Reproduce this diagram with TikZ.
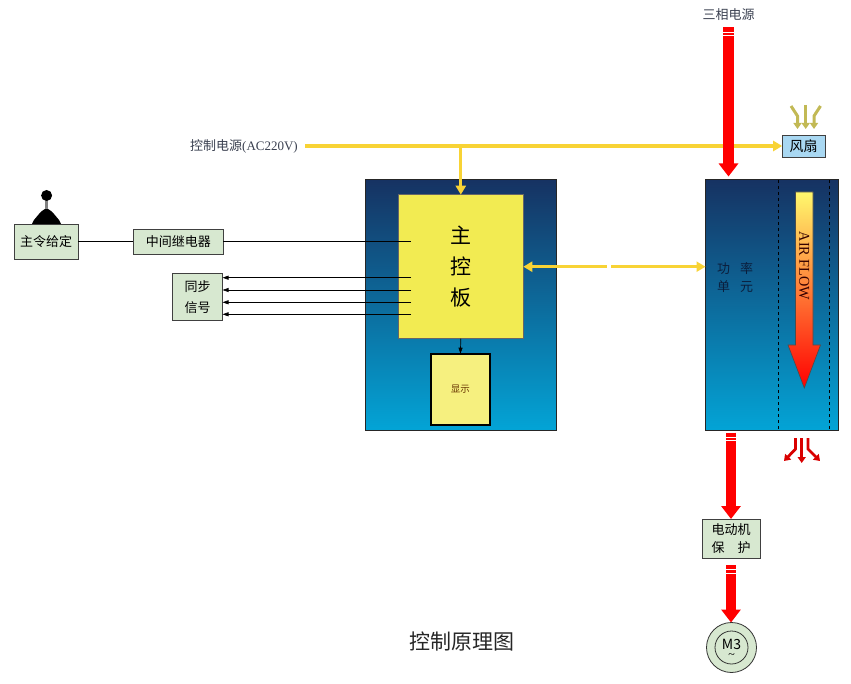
\documentclass[tikz,border=0pt]{standalone}
\usepackage{fontspec}
\setmainfont{Liberation Serif}
\newfontfamily\cjk{Noto Sans CJK SC}
\usetikzlibrary{arrows.meta,shapes.geometric}
\definecolor{cabtop}{HTML}{163262}
\definecolor{cabbot}{HTML}{03A4D6}
\definecolor{boardy}{HTML}{F2EB52}
\definecolor{dispy}{HTML}{F6F07F}
\definecolor{gbox}{HTML}{D7E8D0}
\definecolor{fanb}{HTML}{A9D8F2}
\definecolor{ylw}{HTML}{F8D335}
\definecolor{khaki}{HTML}{C2B955}
\definecolor{txtgray}{HTML}{3A4050}
\definecolor{putext}{HTML}{0B1E3C}
\begin{document}
\begin{tikzpicture}[x=1pt,y=-1pt,
  cab/.style={draw=black!85, line width=0.8pt, top color=cabtop, bottom color=cabbot, inner sep=0pt, outer sep=0pt},
  gbox/.style={draw=black!75, line width=0.9pt, fill=gbox, inner sep=0pt, outer sep=0pt, font=\cjk\fontsize{13}{19}\selectfont, align=center},
  yline/.style={draw=ylw, line width=3.2pt},
  ytip/.style={-{Triangle[width=10pt,length=9pt]}},
  redarrow/.style={draw=red, line width=10.5pt, -{Triangle[width=19pt,length=13pt]}},
  blk/.style={draw=black, line width=0.7pt},
  btip/.style={-{Triangle[width=4pt,length=6pt]}},
  lbl/.style={font=\cjk\fontsize{13}{15}\selectfont, text=txtgray, inner sep=0pt}
]
\useasboundingbox (0,0) rectangle (851,684);

% cabinets
\node[cab, minimum width=191pt, minimum height=251pt] (lcab) at (460.8,304.7) {};
\node[cab, minimum width=133pt, minimum height=251pt] (rcab) at (772,305) {};
\draw[black, dashed, line width=0.8pt] (778.3,180) -- (778.3,430);
\draw[black, dashed, line width=0.8pt] (829,180) -- (829,430);

% main board and display
\node[draw=black!60, line width=0.9pt, fill=boardy, minimum width=125pt, minimum height=144pt, inner sep=0pt, outer sep=0pt,
  align=center, font=\cjk\fontsize{21}{31}\selectfont] (board) at (460.8,266.7) {主\\控\\板};
\node[draw=black, line width=1.8pt, fill=dispy, minimum width=59pt, minimum height=71pt, inner sep=0pt, outer sep=0pt,
  font=\cjk\fontsize{9.5}{11}\selectfont, text=black!60!orange] (disp) at (460.4,389.2) {显示};
\draw[blk, btip] (board.south) -- (disp.north);

% power unit label
\node[font=\cjk\fontsize{13}{18}\selectfont, text=putext, align=center, inner sep=0pt] (pu) at (735,278)
  {功\hspace{10pt}率\\单\hspace{10pt}元};

% air flow arrow
\shade[top color=yellow!55!white!95!orange, middle color=orange!70!red!90, bottom color=red, draw=black!70, line width=0.6pt]
  (795.5,192) -- (813,192) -- (813,345) -- (820.5,345) -- (804.3,388) -- (788,345) -- (795.5,345) -- cycle;
\node[rotate=-90, font=\fontsize{15}{15}\selectfont, xscale=0.95, text=black!80!red, inner sep=0pt] (af) at (804.3,266) {AIR FLOW};

% left side blocks
\fill[black] (32,224) -- (34,220) -- (36.5,217) -- (39,214) -- (42,211) -- (46.5,208) -- (51,211) -- (54,214) -- (56.5,217) -- (59,220) -- (61,224) -- cycle;
\fill[gray] (45.4,200) rectangle (47.8,209);
\fill[black] (46.6,195.5) circle (5.5);
\node[gbox, minimum width=64pt, minimum height=35pt] (zl) at (46.2,241.8) {主令给定};
\node[gbox, minimum width=90pt, minimum height=25pt] (relay) at (178.3,241.8) {中间继电器};
\node[gbox, minimum width=50pt, minimum height=47pt, font=\cjk\fontsize{13}{21}\selectfont] (sync) at (197.5,296.7) {同步\\信号};
\draw[blk] (zl.east) -- (relay.west);
\coordinate (b0) at (411,241.8);
\draw[blk] (relay.east) -- (b0);
\coordinate (s1) at (411,277.7);
\coordinate (s2) at (411,290);
\coordinate (s3) at (411,302.3);
\coordinate (s4) at (411,314.3);
\draw[blk, btip] (s1) -- (s1 -| sync.east);
\draw[blk, btip] (s2) -- (s2 -| sync.east);
\draw[blk, btip] (s3) -- (s3 -| sync.east);
\draw[blk, btip] (s4) -- (s4 -| sync.east);

% control power
\node[lbl, anchor=east] (cp) at (298,146) {控制电源{\fontspec{Liberation Serif}(AC220V)}};
\node[draw=black!75, line width=0.9pt, fill=fanb, minimum width=43pt, minimum height=22pt, inner sep=0pt, outer sep=0pt,
  font=\cjk\fontsize{14}{16}\selectfont] (fan) at (803.7,146) {风扇};
\draw[yline, ytip, shorten <=7pt] (cp.east) -- (cp.east -| fan.west);
\coordinate (jn) at (460.8,146);
\draw[yline, ytip] (jn) -- (jn |- board.north);
\draw[yline, {Triangle[width=10pt,length=9pt]}-{Triangle[width=10pt,length=9pt]}] (board.east) -- (board.east -| rcab.west);
\draw[white, line width=4.5pt] (607,266.7) -- (611,266.7);

% fan arrows (khaki)
\draw[khaki, line width=3pt, -{Triangle[width=8pt,length=6pt]}] (805.7,105) -- (805.7,129);
\draw[khaki, line width=3pt, -{Triangle[width=8pt,length=6pt]}] (791,106) -- (797.5,116) -- (797.5,129);
\draw[khaki, line width=3pt, -{Triangle[width=8pt,length=6pt]}] (820.5,106) -- (814,116) -- (814,129);

% exhaust arrows
\draw[red!85!black, line width=2.8pt, -{Triangle[width=8pt,length=6pt]}] (801.7,438) -- (801.7,463);
\draw[red!85!black, line width=2.8pt, -{Triangle[width=8pt,length=6pt]}] (795.5,438) -- (795.5,449) -- (784,461);
\draw[red!85!black, line width=2.8pt, -{Triangle[width=8pt,length=6pt]}] (808,438) -- (808,449) -- (820,461);

% three-phase power
\node[lbl] (p3) at (728.5,15) {三相电源};
\coordinate (p3s) at (728.5,27.5);
\draw[redarrow, shorten >=3pt] (p3s) -- (p3s |- rcab.north);
\draw[white, line width=0.9pt] (721,32) -- (736,32);
\draw[white, line width=0.9pt] (721,35.5) -- (736,35.5);

% motor protection and motor
\node[gbox, minimum width=58pt, minimum height=39pt, font=\cjk\fontsize{13}{18.5}\selectfont] (mprot) at (731,538.5)
  {电动机\\保\hspace{13pt}护};
\node[circle, draw=black!80, line width=0.8pt, fill=gbox, minimum size=50pt, inner sep=0pt, outer sep=0pt] (motor) at (731.5,647.5) {};
\draw[black!80, line width=0.8pt] (motor.center) circle (16.5);
\node[font=\cjk\fontsize{14}{14}\selectfont, inner sep=0pt] (m3) at (731.5,644) {M3};
\node[font=\fontsize{12}{12}\selectfont, inner sep=0pt] (tl) at (731.5,656.5) {\textasciitilde};
\coordinate (ma) at (731,432.5);
\draw[redarrow] (ma) -- (ma |- mprot.north);
\draw[white, line width=0.9pt] (723,437) -- (739,437);
\draw[white, line width=0.9pt] (723,440.5) -- (739,440.5);
\coordinate (mb) at (731,565);
\draw[redarrow] (mb) -- (mb |- motor.north);
\draw[white, line width=0.9pt] (723,569.5) -- (739,569.5);
\draw[white, line width=0.9pt] (723,573) -- (739,573);

% title
\node[font=\cjk\fontsize{21}{24}\selectfont, text=black!85, inner sep=0pt] (title) at (461.5,641.5) {控制原理图};
\end{tikzpicture}
\end{document}
